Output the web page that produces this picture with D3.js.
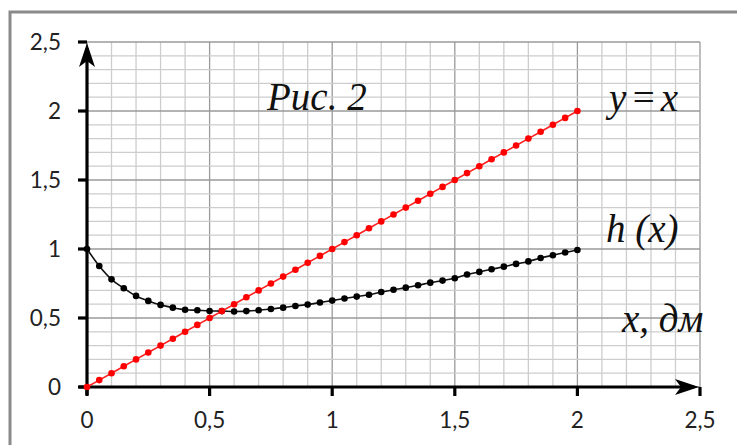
<!DOCTYPE html>
<html>
<head>
<meta charset="utf-8">
<script src="https://cdn.jsdelivr.net/npm/d3@7"></script>
<style>
    body { margin: 0; background: #fff; }
    .tick-label { font-family: Lato, "Open Sans", sans-serif; font-size: 22.5px; fill: #222; }
    .note { font-family: "Liberation Serif", "DejaVu Serif", serif; font-style: italic; font-size: 39px; fill: #111; }
</style>
</head>
<body>
<svg id="chart" width="737" height="445"></svg>
<script>
// x values of the points (step of half a tenth)
let xValues = [0, 0.05, 0.1, 0.15, 0.2, 0.25, 0.3, 0.35, 0.4, 0.45, 0.5,
    0.55, 0.6, 0.65, 0.7, 0.75, 0.8, 0.85, 0.9, 0.95, 1,
    1.05, 1.1, 1.15, 1.2, 1.25, 1.3, 1.35, 1.4, 1.45, 1.5,
    1.55, 1.6, 1.65, 1.7, 1.75, 1.8, 1.85, 1.9, 1.95, 2];

// y = x
let lineValues = [0, 0.05, 0.1, 0.15, 0.2, 0.25, 0.3, 0.35, 0.4, 0.45, 0.5,
    0.55, 0.6, 0.65, 0.7, 0.75, 0.8, 0.85, 0.9, 0.95, 1,
    1.05, 1.1, 1.15, 1.2, 1.25, 1.3, 1.35, 1.4, 1.45, 1.5,
    1.55, 1.6, 1.65, 1.7, 1.75, 1.8, 1.85, 1.9, 1.95, 2];

// h(x)
let hValues = [1, 0.877, 0.78, 0.716, 0.66, 0.624, 0.595, 0.575, 0.56, 0.556, 0.551,
    0.55, 0.547, 0.55, 0.556, 0.565, 0.575, 0.587, 0.597, 0.612, 0.626,
    0.641, 0.655, 0.669, 0.688, 0.705, 0.72, 0.737, 0.756, 0.771, 0.788,
    0.815, 0.834, 0.853, 0.872, 0.892, 0.91, 0.935, 0.955, 0.975, 0.993];

let tickValues = [0, 0.5, 1, 1.5, 2, 2.5];
let tickLabels = ["0", "0,5", "1", "1,5", "2", "2,5"];

let svg = d3.select("#chart");

let x = d3.scaleLinear().domain([0, 2.5]).range([87, 700]),
    y = d3.scaleLinear().domain([0, 2.5]).range([387, 42]);

// outer frame (top and left only are visible)
svg.append("path")
    .attr("d", "M10,445 V12 H737")
    .attr("fill", "none")
    .attr("stroke", "#8a8a8a")
    .attr("stroke-width", 3);

// grid: minor lines every 0.1, major every 0.5
let minor = d3.range(0, 26).map(i => i / 10);
let grid = svg.append("g");
grid.selectAll(".vgrid")
    .data(minor)
    .enter()
    .append("line")
    .attr("x1", d => x(d)).attr("x2", d => x(d))
    .attr("y1", y(0)).attr("y2", y(2.5))
    .attr("stroke", (d, i) => i % 5 === 0 ? "#9a9a9a" : "#cdcdcd")
    .attr("stroke-width", 1.3);
grid.selectAll(".hgrid")
    .data(minor)
    .enter()
    .append("line")
    .attr("y1", d => y(d)).attr("y2", d => y(d))
    .attr("x1", x(0)).attr("x2", x(2.5))
    .attr("stroke", (d, i) => i % 5 === 0 ? "#9a9a9a" : "#cdcdcd")
    .attr("stroke-width", 1.3);

// axes
let axes = svg.append("g").attr("stroke", "#000").attr("stroke-width", 3.2);
axes.append("line").attr("x1", x(0)).attr("x2", x(0)).attr("y1", y(0) + 8).attr("y2", y(2.5) + 6);
axes.append("line").attr("x1", x(0) - 8).attr("x2", x(2.5) - 6).attr("y1", y(0)).attr("y2", y(0));

axes.selectAll(".ytick")
    .data(tickValues)
    .enter()
    .append("line")
    .attr("x1", x(0) - 9).attr("x2", x(0))
    .attr("y1", d => y(d)).attr("y2", d => y(d));
axes.selectAll(".xtick")
    .data(tickValues)
    .enter()
    .append("line")
    .attr("x1", d => x(d)).attr("x2", d => x(d))
    .attr("y1", y(0)).attr("y2", y(0) + 9);

// arrow heads
svg.append("path")
    .attr("d", `M${x(0)},${y(2.5) + 1} L${x(0) + 8},${y(2.5) + 25} L${x(0)},${y(2.5) + 19} L${x(0) - 8},${y(2.5) + 25} Z`)
    .attr("fill", "#000");
svg.append("path")
    .attr("d", `M${x(2.5) - 1},${y(0)} L${x(2.5) - 25},${y(0) - 8} L${x(2.5) - 19},${y(0)} L${x(2.5) - 25},${y(0) + 8} Z`)
    .attr("fill", "#000");

// tick labels
svg.selectAll(".ylab")
    .data(tickValues)
    .enter()
    .append("text")
    .attr("class", "tick-label")
    .attr("x", 61)
    .attr("y", d => y(d) + 8)
    .attr("text-anchor", "end")
    .text((d, i) => tickLabels[i]);
svg.selectAll(".xlab")
    .data(tickValues)
    .enter()
    .append("text")
    .attr("class", "tick-label")
    .attr("x", d => x(d))
    .attr("y", 428)
    .attr("text-anchor", "middle")
    .text((d, i) => tickLabels[i]);

// series
let hData = xValues.map((d, i) => [d, hValues[i]]);
let lineData = xValues.map((d, i) => [d, lineValues[i]]);

let path = d3.line().x(d => x(d[0])).y(d => y(d[1]));

svg.append("path")
    .datum(hData)
    .attr("d", path.curve(d3.curveMonotoneX))
    .attr("fill", "none")
    .attr("stroke", "#111")
    .attr("stroke-width", 1.6);
svg.selectAll(".hdot")
    .data(hData)
    .enter()
    .append("circle")
    .attr("cx", d => x(d[0]))
    .attr("cy", d => y(d[1]))
    .attr("r", 3.3)
    .attr("fill", "#000");

svg.append("path")
    .datum(lineData)
    .attr("d", d3.line().x(d => x(d[0])).y(d => y(d[1])))
    .attr("fill", "none")
    .attr("stroke", "#ff2020")
    .attr("stroke-width", 1.6);
svg.selectAll(".ldot")
    .data(lineData)
    .enter()
    .append("circle")
    .attr("cx", d => x(d[0]))
    .attr("cy", d => y(d[1]))
    .attr("r", 3.3)
    .attr("fill", "#ff0000");

// notes
svg.append("text").attr("class", "note").attr("x", 267).attr("y", 110).text("Рис. 2");
svg.append("text").attr("class", "note").attr("x", 609).attr("y", 111)
    .attr("letter-spacing", 4).text("y=x");
svg.append("text").attr("class", "note").attr("x", 606).attr("y", 242).text("h (x)");
svg.append("text").attr("class", "note").attr("x", 622).attr("y", 332).text("x, дм");
</script>
</body>
</html>
